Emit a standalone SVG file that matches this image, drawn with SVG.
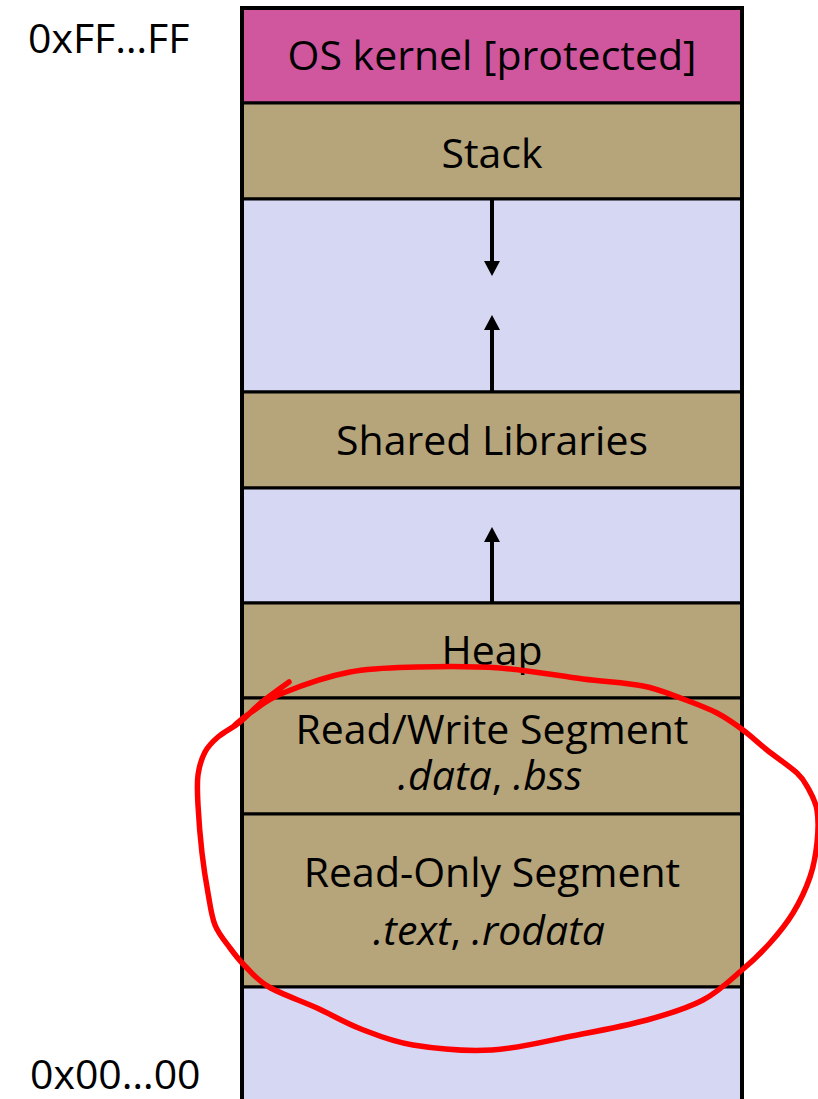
<svg xmlns="http://www.w3.org/2000/svg" width="818" height="1099" viewBox="0 0 818 1099">
  <style>
    .seg { stroke: #000; stroke-width: 3; }
    .kernel { fill: #D0569E; }
    .used { fill: #B6A47A; }
    .free { fill: #D6D7F3; }
    .lbl { font-family: "Open Sans", "Noto Sans", sans-serif; font-size: 41px; fill: #000; text-anchor: middle; }
    .sub { font-style: italic; }
    .addr { font-family: "Open Sans", "Noto Sans", sans-serif; font-size: 41px; fill: #000; }
    .frame { fill: none; stroke: #000; stroke-width: 4; }
    .conn { stroke: #000; stroke-width: 4; fill: none; }
    .mark { fill: none; stroke: #FF0000; stroke-width: 5.5; stroke-linecap: round; stroke-linejoin: round; }
  </style>
  <defs>
    <marker id="head" viewBox="0 0 15 16" markerUnits="userSpaceOnUse" markerWidth="15" markerHeight="16" refX="1" refY="8" orient="auto">
      <path d="M0,0 L15,8 L0,16 Z" fill="#000"/>
    </marker>
  </defs>

  <rect width="818" height="1099" fill="#fff"/>

  <!-- address labels -->
  <text class="addr" x="28" y="53">0xFF…FF</text>
  <text class="addr" x="30" y="1089">0x00…00</text>

  <!-- memory segments, top (high addresses) to bottom -->
  <g id="kernel">
    <rect class="seg kernel" x="242" y="8" width="500" height="95"/>
    <text class="lbl" x="492" y="70">OS kernel [protected]</text>
  </g>
  <g id="stack">
    <rect class="seg used" x="242" y="103" width="500" height="96"/>
    <text class="lbl" x="492" y="168">Stack</text>
  </g>
  <g id="gap-stack-libs">
    <rect class="seg free" x="242" y="199" width="500" height="193"/>
  </g>
  <g id="shared-libraries">
    <rect class="seg used" x="242" y="392" width="500" height="96"/>
    <text class="lbl" x="492" y="455">Shared Libraries</text>
  </g>
  <g id="gap-libs-heap">
    <rect class="seg free" x="242" y="488" width="500" height="115"/>
  </g>
  <g id="heap">
    <rect class="seg used" x="242" y="603" width="500" height="95"/>
    <text class="lbl" x="492" y="665">Heap</text>
  </g>
  <g id="read-write">
    <rect class="seg used" x="242" y="698" width="500" height="116"/>
    <text class="lbl" x="492" y="744">Read/Write Segment</text>
    <text class="lbl" x="490" y="790"><tspan class="sub">.data</tspan>, <tspan class="sub">.bss</tspan></text>
  </g>
  <g id="read-only">
    <rect class="seg used" x="242" y="814" width="500" height="173"/>
    <text class="lbl" x="492" y="887">Read-Only Segment</text>
    <text class="lbl" x="489" y="945"><tspan class="sub">.text</tspan>, <tspan class="sub">.rodata</tspan></text>
  </g>
  <g id="gap-bottom">
    <rect class="seg free" x="242" y="987" width="500" height="125"/>
  </g>

  <!-- outer frame -->
  <path class="frame" d="M242,1105 V8 H742 V1105"/>

  <!-- growth arrows -->
  <g id="connectors">
    <line class="conn" x1="492" y1="200" x2="492" y2="262" marker-end="url(#head)"/>
    <line class="conn" x1="492" y1="391" x2="492" y2="329" marker-end="url(#head)"/>
    <line class="conn" x1="492" y1="602" x2="492" y2="541" marker-end="url(#head)"/>
  </g>

  <!-- hand-drawn loop around the static segments -->
  <path class="mark" d="M289,682 C284.5,685.3 270.2,695.3 262,702 C253.8,708.7 247.3,716.2 240,722 C232.7,727.8 223.8,732 218,737 C212.2,742 208.3,745.7 205,752 C201.7,758.3 199.2,766.2 198,775 C196.8,783.8 197.3,792 198,805 C198.7,818 200.3,838.3 202,853 C203.7,867.7 205.8,881 208,893 C210.2,905 211.3,915.8 215,925 C218.7,934.2 225,941.2 230,948 C235,954.8 238.5,959.5 245,966 C251.5,972.5 257,980 269,987 C281,994 301.7,1001 317,1008 C332.3,1015 345,1022.8 361,1029 C377,1035.2 391.2,1041.5 413,1045 C434.8,1048.5 465.5,1051.5 492,1050 C518.5,1048.5 546.2,1041 572,1036 C597.8,1031 625.2,1026 647,1020 C668.8,1014 687.2,1008.3 703,1000 C718.8,991.7 730.8,979.5 742,970 C753.2,960.5 761.5,952.5 770,943 C778.5,933.5 786.3,924 793,913 C799.7,902 806,888.7 810,877 C814,865.3 815.8,854.2 817,843 C818.2,831.8 818.5,819.2 817,810 C815.5,800.8 811.3,794.2 808,788 C804.7,781.8 803.8,779.3 797,773 C790.2,766.7 776,757.2 767,750 C758,742.8 751.3,736.2 743,730 C734.7,723.8 727,718.2 717,713 C707,707.8 695.3,703.5 683,699 C670.7,694.5 659.7,689.3 643,686 C626.3,682.7 606.8,682 583,679 C559.2,676 527.7,670 500,668 C472.3,666 442,666.3 417,667 C392,667.7 372.3,667.7 350,672 C327.7,676.3 299.7,686.2 283,693 C266.3,699.8 258,707.7 250,713 C242,718.3 237.5,723 235,725"/>
</svg>
